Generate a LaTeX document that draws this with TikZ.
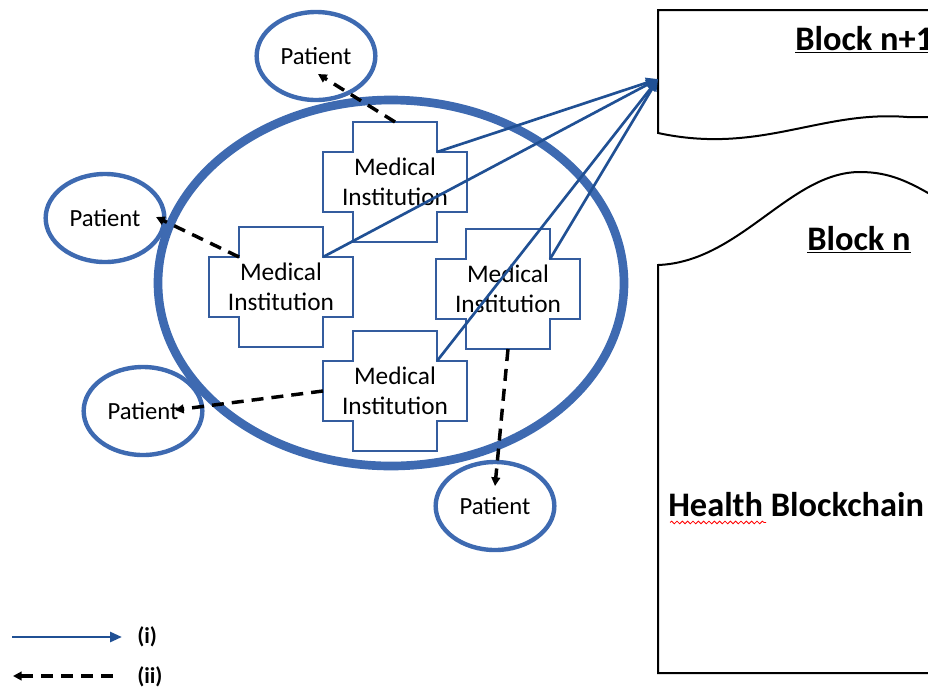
\documentclass[tikz,border=0pt]{standalone}
\usepackage{fontspec}
\setmainfont{Carlito}
\usetikzlibrary{shapes.geometric,arrows.meta,calc,decorations.pathmorphing}
\definecolor{ringblue}{RGB}{62,106,177}
\definecolor{crossblue}{RGB}{52,92,158}
\definecolor{arrowblue}{RGB}{32,80,148}
\tikzset{
  patient/.style={ellipse, draw=ringblue, line width=3.3pt, minimum width=89pt, minimum height=66pt, inner sep=0pt, font=\fontsize{18.5}{20}\selectfont},
  inst/.style={align=center, inner sep=0pt, font=\fontsize{19}{22.5}\selectfont},
  crossline/.style={draw=crossblue, line width=1.2pt, fill=white},
  linkarrow/.style={draw=arrowblue, line width=2pt, -{Triangle[length=9pt,width=7.5pt]}},
  sendarrow/.style={draw=black, line width=2.6pt, dash pattern=on 9pt off 6pt, -{Triangle[length=6.5pt,width=6.5pt]}},
  blockline/.style={draw=black, line width=1.5pt},
  blocktitle/.style={anchor=west, inner sep=0pt, font=\fontsize{25.8}{28}\selectfont\bfseries},
  legendtext/.style={anchor=west, inner sep=0pt, font=\fontsize{17}{20}\selectfont\bfseries}
}
\newcommand{\crossshape}[2]{%
  \begin{scope}[shift={(#1,#2)}]
    \path[crossline] (-42,-60) -- (42,-60) -- (42,-30) -- (72,-30) -- (72,30) -- (42,30) -- (42,60) -- (-42,60) -- (-42,30) -- (-72,30) -- (-72,-30) -- (-42,-30) -- cycle;
  \end{scope}}
\begin{document}
\begin{tikzpicture}[x=0.75pt, y=-0.75pt]
\useasboundingbox (0,0) rectangle (928,690);
% blocks
\path[blockline] (940,10) -- (658,10) -- (658,133) .. controls (760,155) and (820,110) .. (907,117) -- (940,117);
\path[blockline] (940,200) .. controls (910,182) and (890,172) .. (860,172) .. controls (790,172) and (740,262) .. (658,265) -- (658,673) -- (940,673);
\node[blocktitle] (bn1) at (795,40) {\underline{Block n+1}};
\node[blocktitle] (bn) at (807,240) {\underline{Block n}};
\node[blocktitle] (hb) at (668,505) {Health Blockchain};
\draw[red, line width=0.6pt, decorate, decoration={snake, amplitude=1pt, segment length=4pt}] ($(hb.south west)+(2,5)$) -- ($(hb.south west)+(98,5)$);
\coordinate (tgt) at (658,79);
% ring
\draw[ringblue, line width=6.5pt] (391,283) ellipse [x radius=233, y radius=183];
% patients
\node[patient] (p1) at (316,56) {Patient};
\node[patient] (p2) at (105,218) {Patient};
\node[patient] (p3) at (143,411) {Patient};
\node[patient] (p4) at (495,506) {Patient};
% crosses
\crossshape{395}{182}
\crossshape{281}{287}
\crossshape{508}{289}
\crossshape{395}{391}
\node[inst] (m1) at (395,182) {Medical\\Institution};
\node[inst] (m2) at (281,287) {Medical\\Institution};
\node[inst] (m3) at (508,289) {Medical\\Institution};
\node[inst] (m4) at (395,391) {Medical\\Institution};
% links to blockchain
\draw[linkarrow] ($(m1)+(42,-30)$) -- (tgt);
\draw[linkarrow] ($(m2)+(42,-30)$) -- (tgt);
\draw[linkarrow] ($(m3)+(42,-30)$) -- (tgt);
\draw[linkarrow] ($(m4)+(42,-30)$) -- (tgt);
% to patients
\draw[sendarrow] ($(m1)+(0,-60)$) -- ($(p1)+(2,18)$);
\draw[sendarrow] ($(m2)+(-42,-30)$) -- ($(p2)+(51,-1)$);
\draw[sendarrow] ($(m4)+(-72,0)$) -- ($(p3)+(32,-1)$);
\draw[sendarrow] ($(m3)+(0,60)$) -- ($(p4)+(0,-20)$);
% legend
\coordinate (l1s) at (12,637);
\coordinate (l1e) at (122,637);
\coordinate (l2s) at (113,676);
\coordinate (l2e) at (13,676);
\draw[linkarrow] (l1s) -- (l1e);
\draw[sendarrow] (l2s) -- (l2e);
\node[legendtext] (li) at (137,637) {(i)};
\node[legendtext] (lii) at (137,677) {(ii)};
\end{tikzpicture}
\end{document}
